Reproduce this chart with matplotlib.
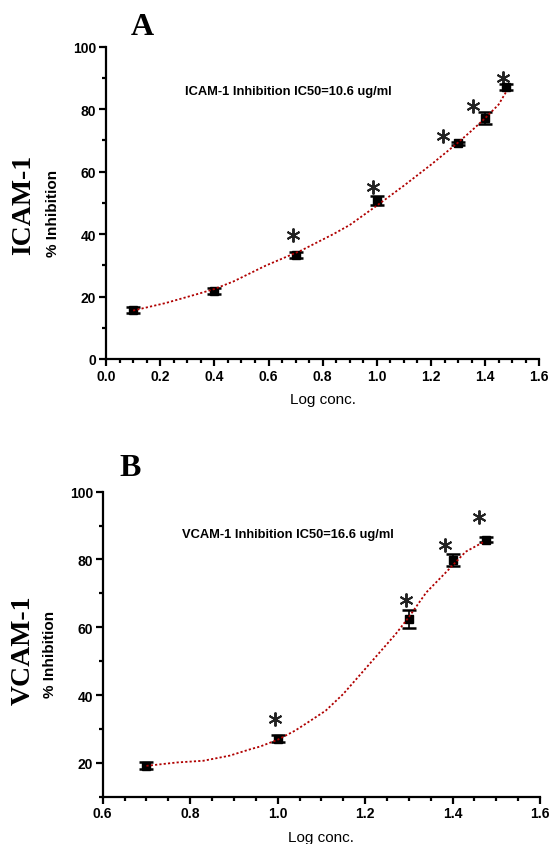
import matplotlib
matplotlib.use('Agg')
import matplotlib.pyplot as plt
from matplotlib.ticker import MultipleLocator

# panel A - ICAM-1
icam_x = [0.1, 0.4, 0.7, 1.0, 1.3, 1.4, 1.477]
icam_y = [15.8, 21.8, 33.3, 50.7, 69.0, 77.2, 87.0]
icam_err = [1.0, 1.0, 1.0, 1.5, 0.5, 2.0, 1.0]
icam_fit_x = [0.1, 0.22, 0.35, 0.4, 0.47, 0.59, 0.72, 0.84, 0.9, 1.0,
              1.1, 1.2, 1.3, 1.35, 1.4, 1.45, 1.48]
icam_fit_y = [15.5, 17.9, 21.1, 22.4, 24.8, 29.9, 34.7, 40.0, 42.9, 49.1,
              55.5, 62.2, 69.3, 73.1, 77.1, 81.5, 85.9]
icam_sig_x = [0.692, 0.987, 1.243, 1.354, 1.467]
icam_sig_y = [39.8, 55.0, 71.5, 81.1, 89.9]

# panel B - VCAM-1
vcam_x = [0.7, 1.0, 1.3, 1.4, 1.477]
vcam_y = [19.2, 27.1, 62.5, 79.8, 85.8]
vcam_err = [1.0, 1.0, 2.7, 1.7, 0.7]
vcam_fit_x = [0.7, 0.77, 0.83, 0.89, 0.94, 0.96, 1.0, 1.04, 1.07, 1.11,
              1.15, 1.19, 1.23, 1.27, 1.3, 1.34, 1.39, 1.43, 1.47]
vcam_fit_y = [19.1, 20.1, 20.6, 22.1, 24.1, 24.8, 26.8, 29.5, 32.0, 35.4,
              40.3, 46.2, 52.1, 58.0, 63.0, 70.3, 76.9, 82.3, 85.1]
vcam_sig_x = [0.994, 1.293, 1.383, 1.461]
vcam_sig_y = [32.9, 68.0, 84.3, 92.4]

sans = 'Liberation Sans'
serif = 'Liberation Serif'

fig = plt.figure(figsize=(5.51, 8.45), dpi=100)
ax1 = fig.add_axes([0.1924, 0.5740, 0.7864, 0.3696])
ax2 = fig.add_axes([0.1864, 0.0560, 0.7937, 0.3609])


def style_axis(ax, xmin, xmax, ymin, ymax, yticks):
    ax.set_xlim(xmin, xmax)
    ax.set_ylim(ymin, ymax)
    ax.set_yticks(yticks)
    ax.xaxis.set_major_locator(MultipleLocator(0.2))
    ax.xaxis.set_minor_locator(MultipleLocator(0.05))
    ax.yaxis.set_minor_locator(MultipleLocator(10))
    for s in ['top', 'right']:
        ax.spines[s].set_visible(False)
    for s in ['left', 'bottom']:
        ax.spines[s].set_linewidth(1.6)
    ax.tick_params(which='major', direction='out', length=5, width=1.6,
                   labelsize=10, pad=2)
    ax.tick_params(which='minor', direction='out', length=3, width=1.6)
    for lab in ax.get_xticklabels() + ax.get_yticklabels():
        lab.set_fontfamily(sans)
        lab.set_fontweight('bold')
    ax.set_xlabel('Log conc.', fontfamily=sans, fontsize=11, labelpad=7)


def draw(ax, x, y, err, fx, fy, sx, sy):
    ax.plot(fx, fy, linestyle=(0, (1.2, 1.2)), color='#b00000', lw=1.3,
            zorder=3)
    ax.errorbar(x, y, yerr=err, fmt='s', color='black', ms=6.2, capsize=5,
                capthick=1.8, elinewidth=1.2, zorder=2)
    ax.plot(sx, sy, linestyle='none', marker=(6, 2, 0), ms=10, mew=1.4,
            color='#222222')


draw(ax1, icam_x, icam_y, icam_err, icam_fit_x, icam_fit_y,
     icam_sig_x, icam_sig_y)
style_axis(ax1, 0.0, 1.6, 0, 100, [0, 20, 40, 60, 80, 100])
ax1.text(0.182, 0.859, 'ICAM-1 Inhibition IC50=10.6 ug/ml',
         transform=ax1.transAxes, ha='left', va='center',
         fontfamily=sans, fontweight='bold', fontsize=9.3)

draw(ax2, vcam_x, vcam_y, vcam_err, vcam_fit_x, vcam_fit_y,
     vcam_sig_x, vcam_sig_y)
style_axis(ax2, 0.6, 1.6, 10, 100, [20, 40, 60, 80, 100])
ax2.text(0.181, 0.861, 'VCAM-1 Inhibition IC50=16.6 ug/ml',
         transform=ax2.transAxes, ha='left', va='center',
         fontfamily=sans, fontweight='bold', fontsize=9.3)

# panel letters and side labels
fig.text(0.259, 0.968, 'A', ha='center', va='center', fontfamily=serif,
         fontweight='bold', fontsize=23)
fig.text(0.236, 0.4458, 'B', ha='center', va='center', fontfamily=serif,
         fontweight='bold', fontsize=23)
fig.text(0.0423, 0.7574, 'ICAM-1', rotation=90, ha='center', va='center',
         fontfamily=serif, fontweight='bold', fontsize=20)
fig.text(0.0417, 0.2308, 'VCAM-1', rotation=90, ha='center', va='center',
         fontfamily=serif, fontweight='bold', fontsize=20)
fig.text(0.0962, 0.748, '% Inhibition', rotation=90, ha='center',
         va='center', fontfamily=sans, fontweight='bold', fontsize=11)
fig.text(0.0907, 0.225, '% Inhibition', rotation=90, ha='center',
         va='center', fontfamily=sans, fontweight='bold', fontsize=11)

fig.savefig('out.png', dpi=100)
